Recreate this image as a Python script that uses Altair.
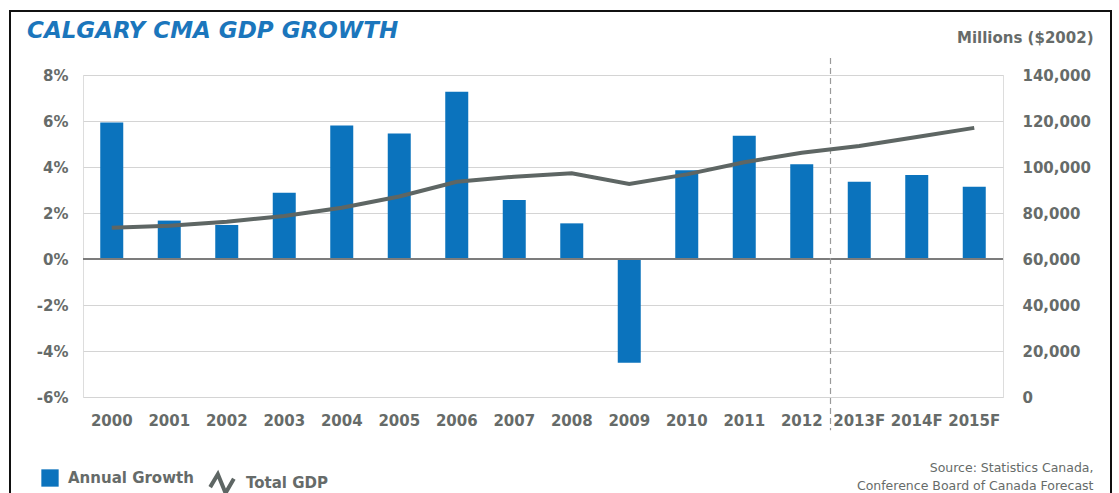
import altair as alt
import pandas as pd

years = ["2000", "2001", "2002", "2003", "2004", "2005", "2006", "2007",
         "2008", "2009", "2010", "2011", "2012", "2013F", "2014F", "2015F"]
growth = [5.93, 1.67, 1.48, 2.88, 5.80, 5.46, 7.27, 2.57,
          1.55, -4.51, 3.86, 5.36, 4.12, 3.36, 3.65, 3.14]
gdp = [73600, 74500, 76200, 78700, 82300, 87200, 93600, 95800,
       97300, 92600, 96800, 102100, 106200, 109100, 113000, 117000]
series = ["Annual Growth", "Total GDP"]
forecast_start = ["2013F"]
pct_ticks = [-6, -4, -2, 0, 2, 4, 6, 8]
gdp_ticks = [0, 20000, 40000, 60000, 80000, 100000, 120000, 140000]

BLUE = "#0b73bd"
LINE = "#5e6664"
TXT = "#666b69"
FONT = "DejaVu Sans"

df = pd.DataFrame({"year": years, "growth": growth, "gdp": gdp})
df["s_bar"] = series[0]
df["s_line"] = series[1]

xenc = alt.X(
    "year:N",
    sort=None,
    scale=alt.Scale(domain=years, paddingInner=0.6, paddingOuter=0.3),
    axis=alt.Axis(title=["Source: Statistics Canada,", "Conference Board of Canada Forecast"],
                  titleX=1010, titleY=64, titleAlign="right", titleBaseline="top",
                  titleFontSize=12.5, titleFontWeight="normal", titleColor=TXT,
                  titleFont=FONT, titleLineHeight=18, titleAngle=0,
                  labelPadding=16, labelAngle=0, labelFontSize=15,
                  labelFont=FONT, labelFontWeight="bold", labelColor=TXT,
                  domain=False, ticks=False, grid=False),
)

yleft = alt.Scale(domain=[-6, 8], nice=False, zero=False)

bars = alt.Chart(df).mark_bar().encode(
    x=xenc,
    y=alt.Y("growth:Q", scale=yleft,
            axis=alt.Axis(title=None, values=pct_ticks, labelExpr="datum.value + '%'",
                          labelPadding=15, labelFontSize=15, labelFont=FONT,
                          labelFontWeight="bold", labelColor=TXT,
                          domain=False, ticks=False, grid=True,
                          gridColor="#d4d4d4", gridWidth=1)),
    color=alt.Color("s_bar:N", scale=alt.Scale(domain=[series[0]], range=[BLUE]),
                    legend=alt.Legend(title=None, orient="none", legendX=-42, legendY=394,
                                      symbolType="square", symbolSize=300,
                                      symbolStrokeWidth=0, labelFontSize=15,
                                      labelFont=FONT, labelFontWeight="bold",
                                      labelColor=TXT, labelOffset=9, padding=0)),
)

zero = alt.Chart(df).mark_rule(color="#7d7d7d", strokeWidth=1.6).encode(y=alt.datum(0))

divider = alt.Chart(pd.DataFrame({"year": forecast_start})).mark_rule(
    color="#9a9a9a", strokeWidth=1.2, strokeDash=[6, 4], xOffset=-28.75
).encode(
    x=alt.X("year:N", sort=None, scale=alt.Scale(domain=years, paddingInner=0.6, paddingOuter=0.3)),
    y=alt.datum(8.74),
    y2=alt.datum(-7.45),
)

frame = alt.Chart(df).mark_rect(fill="transparent", stroke="#111111", strokeWidth=2).encode(
    x=alt.value(-73), x2=alt.value(1028), y=alt.value(-64), y2=alt.value(440)
)

left = alt.layer(frame, bars, zero, divider)

line = alt.Chart(df).mark_line(strokeWidth=4).encode(
    x=xenc,
    y=alt.Y("gdp:Q", scale=alt.Scale(domain=[0, 140000], nice=False),
            axis=alt.Axis(orient="right", title="Millions ($2002)", values=gdp_ticks,
                          labelExpr="format(datum.value, ',')", labelPadding=19,
                          labelFontSize=15, labelFont=FONT,
                          labelFontWeight="bold", labelColor=TXT,
                          titleAngle=0, titleX=90, titleY=-38, titleAlign="right",
                          titleBaseline="middle", titleFontSize=15, titleFont=FONT,
                          titleFontWeight="bold", titleColor=TXT,
                          domain=False, ticks=False, grid=False)),
    stroke=alt.Stroke("s_line:N", scale=alt.Scale(domain=[series[1]], range=[LINE]),
                      legend=alt.Legend(title=None, orient="none", legendX=125, legendY=394,
                                        symbolType="M-1,0.35L-0.35,-0.75L0.3,0.85L1,-0.35",
                                        symbolSize=560, symbolStrokeWidth=4,
                                        symbolFillColor="transparent",
                                        labelFontSize=15, labelFont=FONT,
                                        labelFontWeight="bold", labelColor=TXT,
                                        labelOffset=10, padding=0)),
)

chart = alt.layer(left, line).resolve_scale(
    y="independent", color="independent", stroke="independent"
).properties(
    width=920, height=322,
    padding={"left": 83, "top": 75, "right": 116, "bottom": 96},
    autosize=alt.AutoSizeParams(type="none"),
    title=alt.TitleParams("CALGARY CMA GDP GROWTH", anchor="start", frame="group",
                          dx=-56, dy=37, font=FONT, fontSize=23, fontWeight="bold",
                          fontStyle="italic", color="#1b76bc"),
).configure_view(stroke=None).configure(background="white")

chart.save("out.html", embed_options={"renderer": "svg", "actions": False})
